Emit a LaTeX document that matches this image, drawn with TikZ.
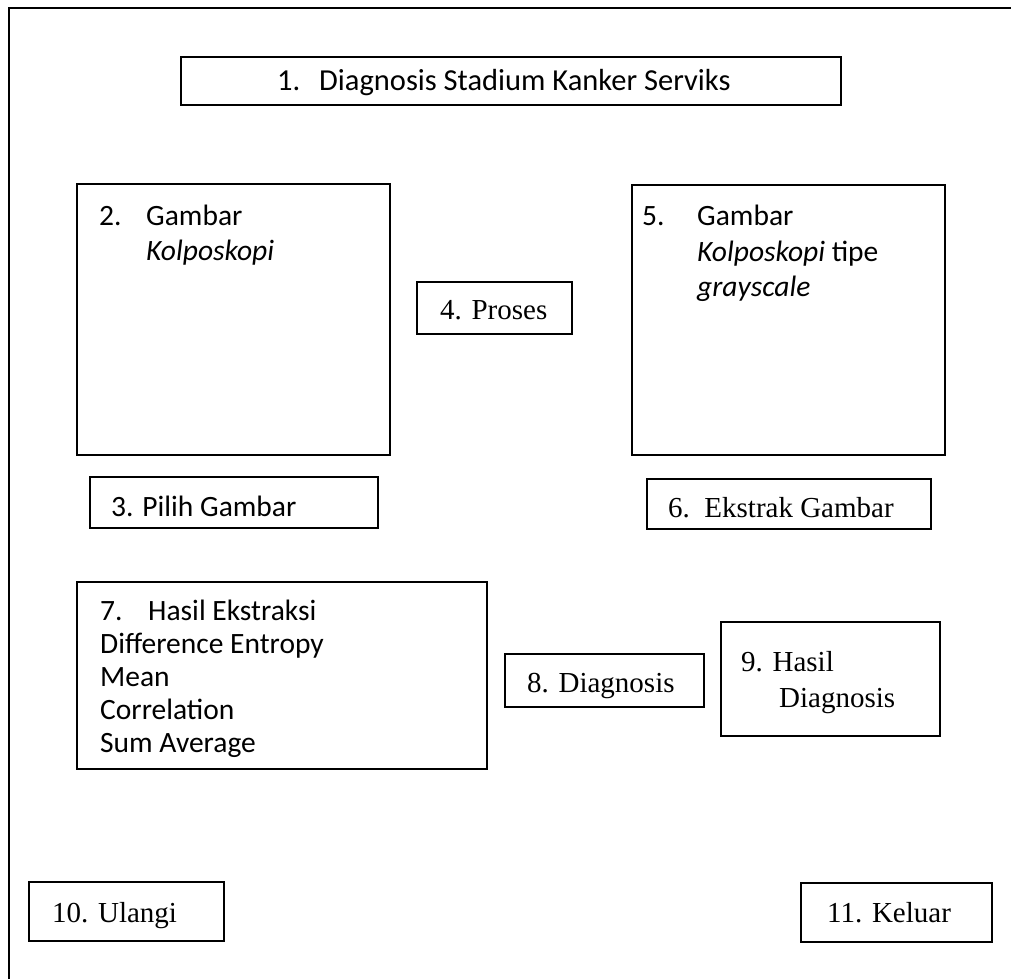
\documentclass[tikz,border=0pt]{standalone}
\usepackage{fontspec}
\setmainfont{Carlito}
\newfontfamily\tnr{Liberation Serif}
\begin{document}
\begin{tikzpicture}[x=1pt,y=-1pt,
  box/.style={draw=black,line width=2pt,rectangle,inner sep=0pt},
  txt/.style={anchor=base west,inner sep=0pt,font=\fontsize{29.5}{34}\selectfont},
  ttl/.style={anchor=base west,inner sep=0pt,font=\fontsize{30.5}{36}\selectfont},
  ttxt/.style={anchor=base west,inner sep=0pt,font=\tnr\fontsize{29}{34}\selectfont}]
\useasboundingbox (0,0) rectangle (1011,979);
\draw[line width=2pt] (9,979) -- (9,8) -- (1011,8);
% boxes
\node[box,minimum width=660pt,minimum height=48pt] (b1) at (511,81) {};
\node[box,minimum width=313pt,minimum height=271pt] (b2) at (233.5,319.5) {};
\node[box,minimum width=288pt,minimum height=51pt] (b3) at (234,502.5) {};
\node[box,minimum width=155pt,minimum height=52pt] (b4) at (494.5,308) {};
\node[box,minimum width=313pt,minimum height=270pt] (b5) at (788.5,320) {};
\node[box,minimum width=284pt,minimum height=50pt] (b6) at (789,504) {};
\node[box,minimum width=410pt,minimum height=187pt] (b7) at (282,675.5) {};
\node[box,minimum width=199pt,minimum height=53pt] (b8) at (604.5,680.5) {};
\node[box,minimum width=219pt,minimum height=114pt] (b9) at (830.5,679) {};
\node[box,minimum width=195pt,minimum height=59pt] (b10) at (126.5,911.5) {};
\node[box,minimum width=191pt,minimum height=59pt] (b11) at (896.5,912.5) {};
% texts
\node[ttl] (t1a) at (277,91) {1.};
\node[ttl] (t1b) at (319,91) {Diagnosis Stadium Kanker Serviks};
\node[txt] (t2a) at (99,225) {2.};
\node[txt] (t2b) at (146,225) {Gambar};
\node[txt] (t2c) at (146,260) {\itshape Kolposkopi};
\node[txt] (t3) at (111,516) {3. Pilih Gambar};
\node[ttxt] (t4) at (440,319) {4. Proses};
\node[txt] (t5a) at (642,225) {5.};
\node[txt] (t5b) at (697,225) {Gambar};
\node[txt] (t5c) at (697,261) {\textit{Kolposkopi} tipe};
\node[txt] (t5d) at (697,296) {\itshape grayscale};
\node[ttxt] (t6) at (668,517) {6.\ \ Ekstrak Gambar};
\node[txt] (t7a) at (100,620) {7.};
\node[txt] (t7b) at (148,620) {Hasil Ekstraksi};
\node[txt] (t7c) at (100,653) {Difference Entropy};
\node[txt] (t7d) at (100,686) {Mean};
\node[txt] (t7e) at (100,719) {Correlation};
\node[txt] (t7f) at (100,752) {Sum Average};
\node[ttxt] (t8) at (527,692) {8. Diagnosis};
\node[ttxt] (t9a) at (741,671) {9. Hasil};
\node[ttxt] (t9b) at (779,707) {Diagnosis};
\node[ttxt] (t10) at (52,922) {10. Ulangi};
\node[ttxt] (t11) at (827,922) {11. Keluar};
\end{tikzpicture}
\end{document}
